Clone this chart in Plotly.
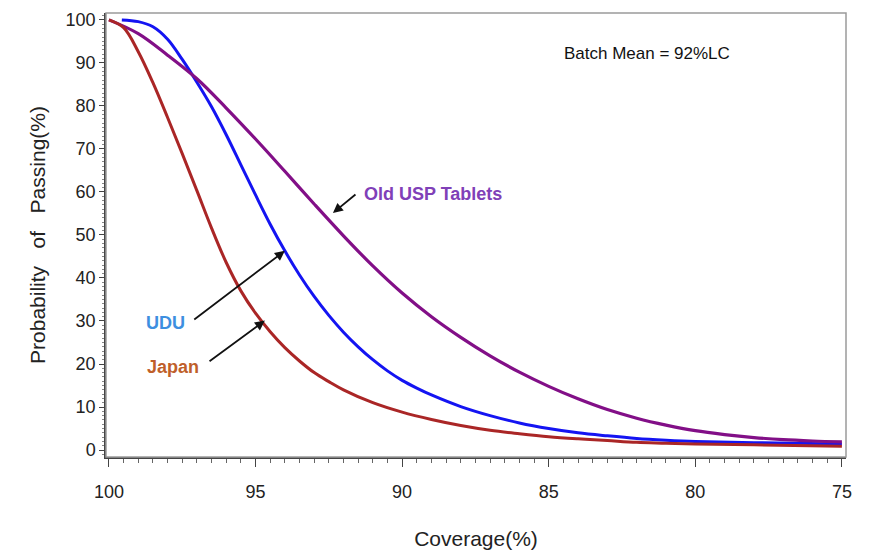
import plotly.graph_objects as go

# Probability of passing vs. coverage for three uniformity tests
japan_x = [100, 99.5, 99, 98.5, 98, 97.5, 97, 96.5, 96, 95.5, 95, 94.5, 94, 93.5, 93,
           92.5, 92, 91, 90, 89, 88, 87, 86, 85, 84, 83, 82, 81, 80, 78, 75]
japan_y = [100, 98.2, 92.6, 85.4, 77.3, 68.9, 60.3, 51.6, 43.6, 37.0, 31.8, 27.5, 23.8,
           20.7, 18.0, 15.9, 14.0, 11.0, 8.8, 7.1, 5.7, 4.6, 3.8, 3.1, 2.6, 2.2, 1.8,
           1.6, 1.4, 1.2, 0.9]

udu_x = [99.56, 99, 98.5, 98, 97.5, 97, 96.5, 96, 95.5, 95, 94.5, 94, 93.5, 93, 92.5,
         92, 91.5, 91, 90.5, 90, 89.5, 89, 88, 87, 86, 85, 84, 83, 82, 81, 80, 78, 75]
udu_y = [100, 99.6, 98.4, 95.5, 90.8, 85.5, 79.8, 73.3, 66.3, 59.3, 52.5, 46.3, 40.7,
         35.7, 31.3, 27.4, 24.0, 21.0, 18.4, 16.2, 14.4, 12.8, 10.1, 8.0, 6.3, 5.0, 4.0,
         3.3, 2.7, 2.3, 2.0, 1.7, 1.4]

usp_x = [100, 99, 98, 97, 96, 95, 94, 93, 92, 91, 90, 89, 88, 87, 86, 85, 84, 83, 82,
         81, 80, 79, 78, 77, 76, 75]
usp_y = [100, 96.8, 91.8, 86.3, 79.5, 72.3, 64.8, 57.2, 49.8, 42.8, 36.5, 31.0, 26.2,
         21.9, 18.1, 14.8, 11.9, 9.4, 7.4, 5.8, 4.5, 3.6, 2.9, 2.4, 2.1, 1.9]

x_ticks = [100, 95, 90, 85, 80, 75]
y_ticks = [0, 10, 20, 30, 40, 50, 60, 70, 80, 90, 100]

FONT = "Liberation Sans, Arial, sans-serif"

fig = go.Figure()
fig.add_trace(go.Scatter(x=udu_x, y=udu_y, mode="lines", name="UDU",
                         line=dict(color="#1414F2", width=3, shape="spline")))
fig.add_trace(go.Scatter(x=usp_x, y=usp_y, mode="lines", name="Old USP Tablets",
                         line=dict(color="#820F87", width=3.2, shape="spline")))
fig.add_trace(go.Scatter(x=japan_x, y=japan_y, mode="lines", name="Japan",
                         line=dict(color="#AA2626", width=3, shape="spline")))

# curve labels with arrows pointing to each curve
labels = [
    ("Old USP Tablets", "#8040B8", 91.37, 59.5, "left", (92.36, 55.1), (91.54, 59.7)),
    ("UDU", "#3D8FE0", 98.06, 29.6, "center", (94.0, 46.3), (97.14, 30.1)),
    ("Japan", "#BF5F2A", 97.8, 19.2, "center", (94.68, 30.1), (96.62, 20.4)),
]
for text, color, tx, ty, anchor, head, tail in labels:
    fig.add_annotation(x=tx, y=ty, text=text, showarrow=False, xanchor=anchor,
                       font=dict(family=FONT, size=18, color=color, weight="bold"))
    fig.add_annotation(x=head[0], y=head[1], ax=tail[0], ay=tail[1],
                       axref="x", ayref="y", text="", showarrow=True,
                       arrowhead=2, arrowsize=1.1, arrowwidth=1.8, arrowcolor="#111")

fig.add_annotation(x=81.65, y=92.1, text="Batch Mean = 92%LC", showarrow=False,
                   font=dict(family=FONT, size=17, color="#111"))

fig.add_shape(type="rect", xref="paper", yref="paper", x0=0, x1=1, y0=0, y1=1,
              line=dict(color="#9a9a9a", width=1.5), layer="above")

fig.update_layout(
    width=874, height=557,
    margin=dict(l=106, r=28, t=10, b=100),
    paper_bgcolor="white", plot_bgcolor="white",
    showlegend=False,
    font=dict(family=FONT, color="#222"),
    xaxis=dict(
        range=[100.1, 74.86], tickvals=x_ticks, ticks="outside", ticklen=8,
        tickcolor="#444", showgrid=False, zeroline=False, showline=True,
        linecolor="#444", linewidth=1.5, tickfont=dict(size=18, color="#222"),
        ticklabelstandoff=10,
        minor=dict(dtick=0.5, ticks="outside", ticklen=4, tickcolor="#666", showgrid=False),
        title=dict(text="Coverage(%)", font=dict(size=21, color="#222"), standoff=30),
    ),
    yaxis=dict(
        range=[-1.62, 101.6], tickvals=y_ticks, ticks="outside", ticklen=5,
        tickcolor="#444", showgrid=False, zeroline=False, showline=True,
        linecolor="#444", linewidth=1.5, tickfont=dict(size=18, color="#222"),
        minor=dict(dtick=1, ticks="outside", ticklen=2, tickcolor="#888", showgrid=False),
        title=dict(text="Probability   of   Passing(%)", font=dict(size=21, color="#222"),
                   standoff=14),
    ),
)

fig.write_html("out.html")
